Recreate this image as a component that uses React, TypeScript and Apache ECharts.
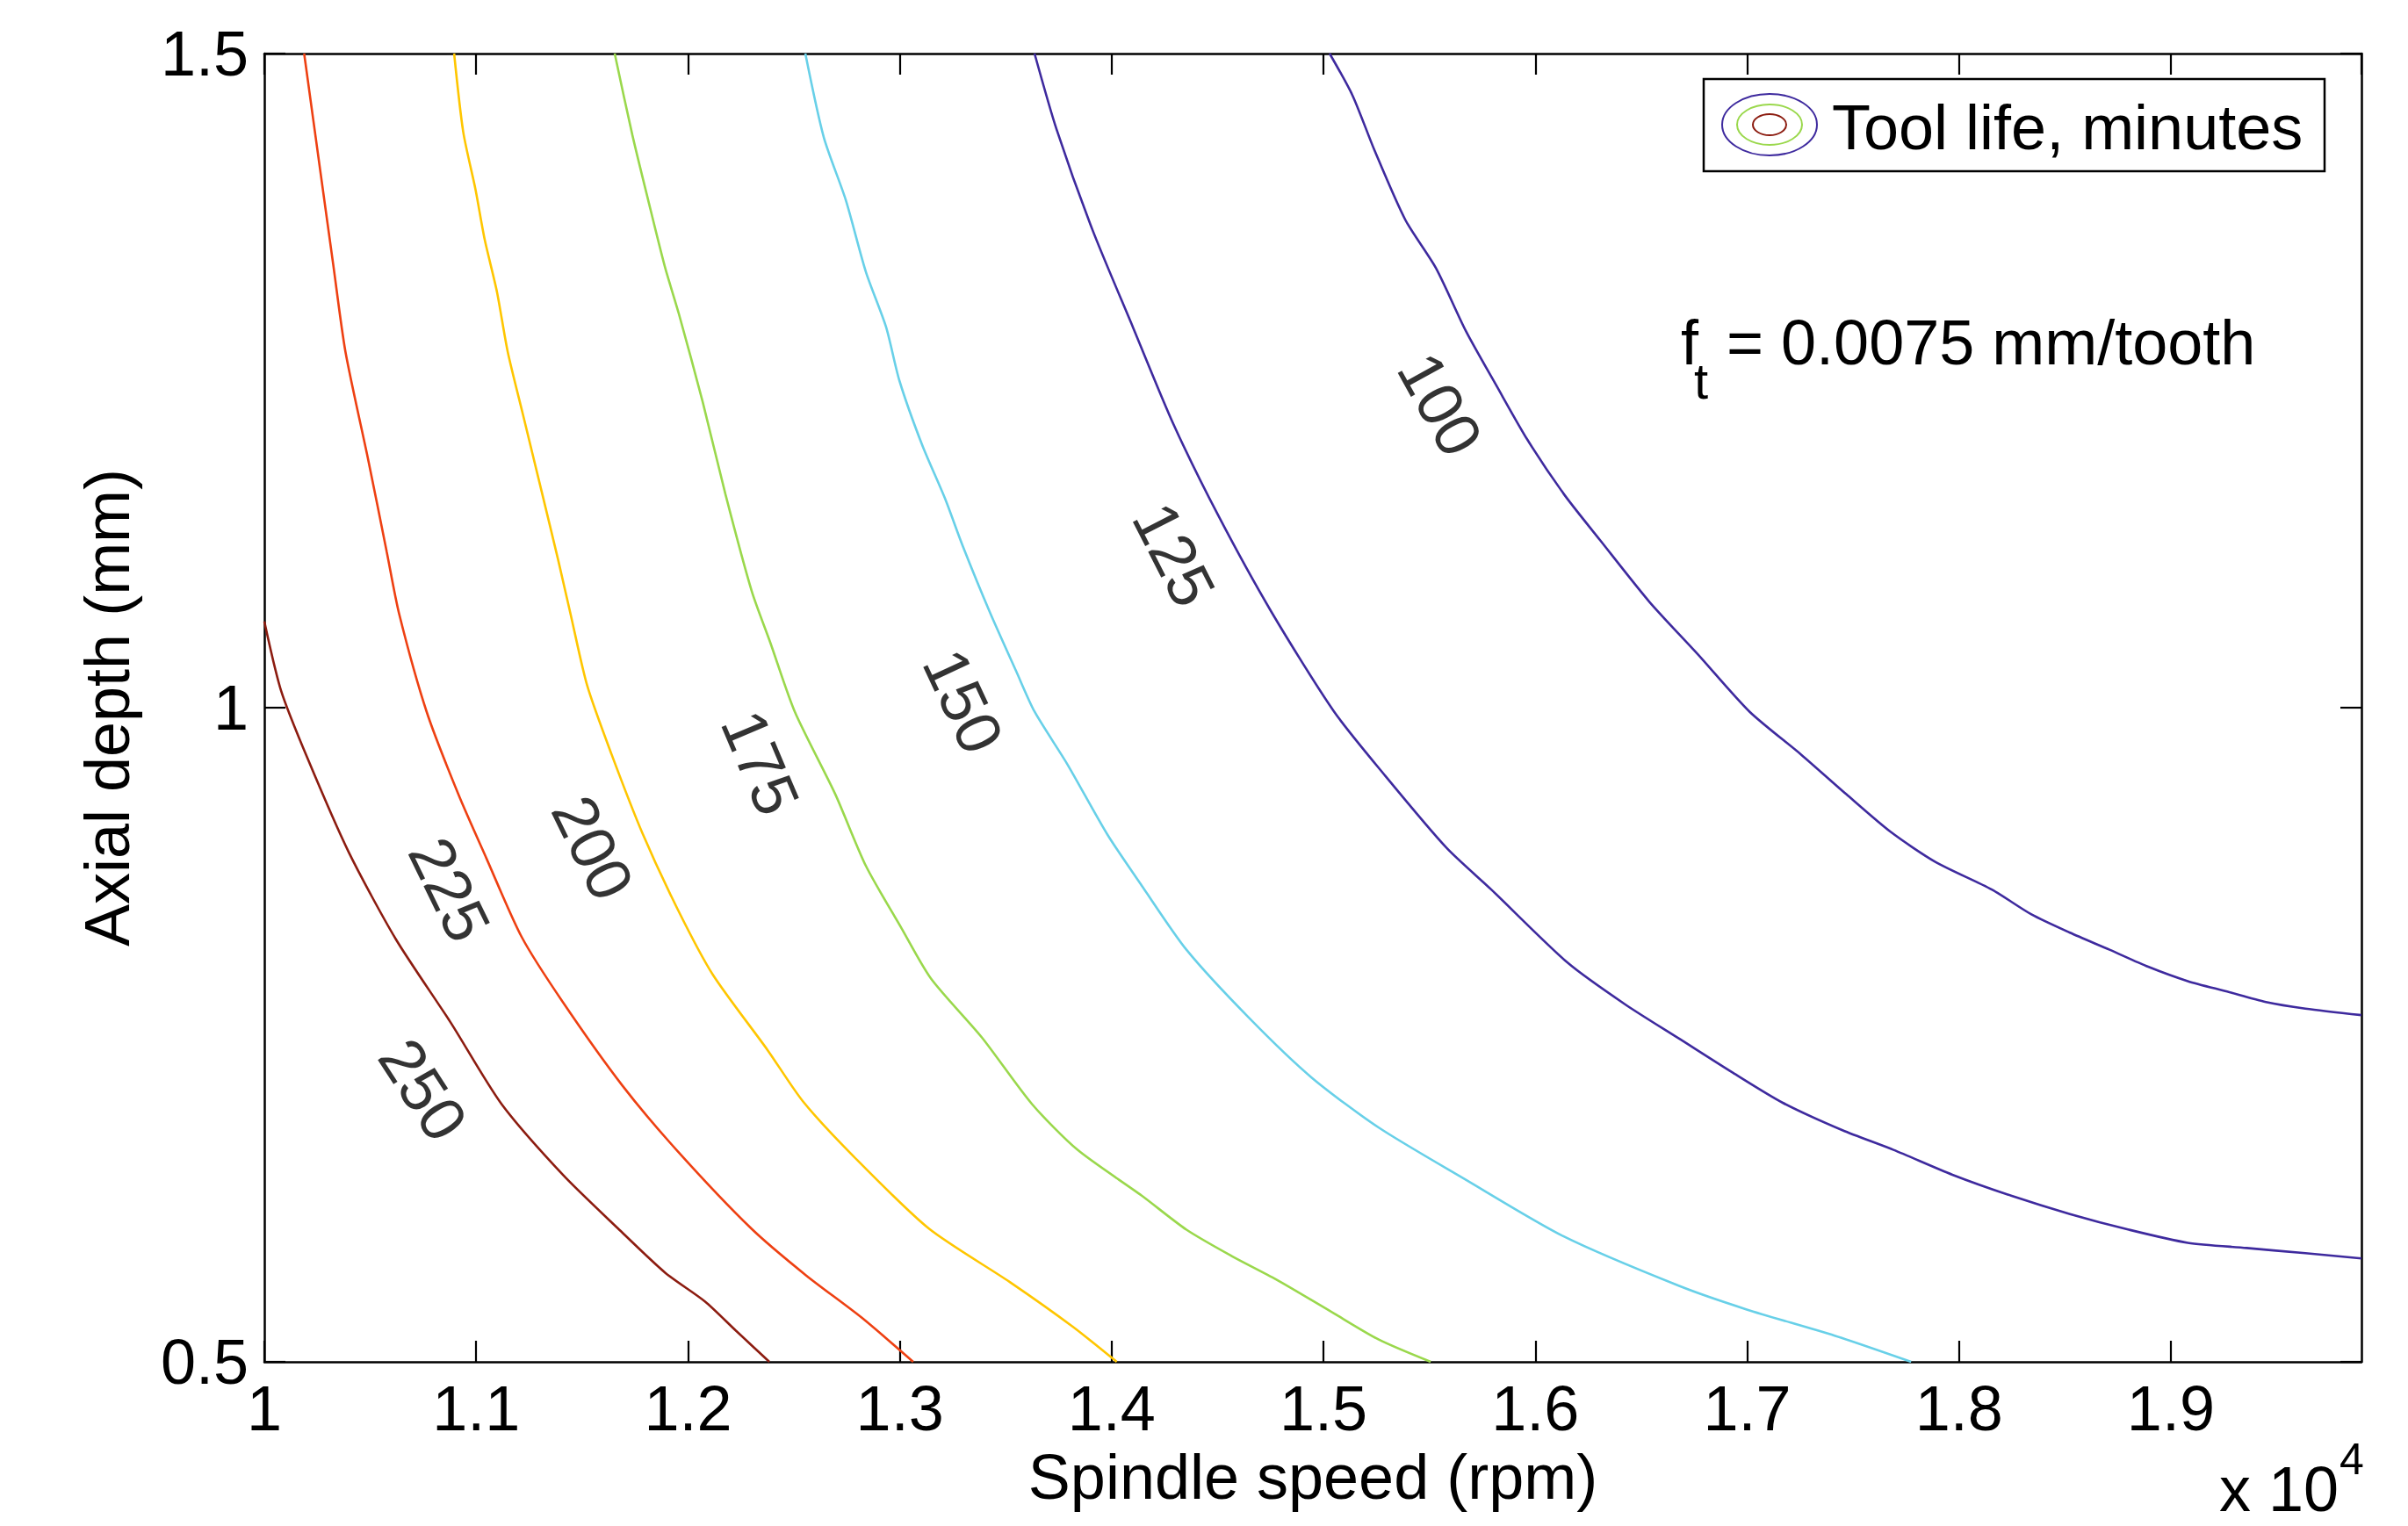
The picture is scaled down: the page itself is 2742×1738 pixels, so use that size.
import React, { useEffect, useRef } from "react";
import * as echarts from "echarts";

// ---- data ----
const xTickValues = [10000, 11000, 12000, 13000, 14000, 15000, 16000, 17000, 18000, 19000];
const yTickValues = [0.5, 1, 1.5];
const contourLevels = [100, 125, 150, 175, 200, 225, 250];

const contour100 = [
  [15029, 1.5], [15137, 1.468], [15241, 1.426], [15386, 1.373], [15531, 1.336], [15672, 1.288],
  [15817, 1.246], [15962, 1.205], [16136, 1.163], [16306, 1.128], [16538, 1.081], [16766, 1.041],
  [17011, 0.997], [17256, 0.964], [17467, 0.934], [17678, 0.905], [17890, 0.882], [18155, 0.861],
  [18342, 0.842], [18524, 0.828], [18711, 0.815], [18893, 0.802], [19080, 0.791], [19266, 0.783],
  [19449, 0.775], [19635, 0.77], [19900, 0.765],
];
const contour125 = [
  [13636, 1.5], [13740, 1.442], [13910, 1.365], [14100, 1.291], [14291, 1.217], [14503, 1.147],
  [14755, 1.073], [15050, 0.997], [15286, 0.949], [15580, 0.893], [15792, 0.861], [16153, 0.805],
  [16426, 0.773], [16679, 0.747], [16932, 0.721], [17168, 0.698], [17450, 0.677], [17691, 0.662],
  [17969, 0.643], [18246, 0.627], [18524, 0.613], [18802, 0.601], [19080, 0.591], [19358, 0.587],
  [19635, 0.583], [19900, 0.579],
];
const contour150 = [
  [12554, 1.5], [12641, 1.436], [12745, 1.388], [12840, 1.333], [12935, 1.291], [12998, 1.25],
  [13105, 1.201], [13213, 1.16], [13296, 1.124], [13425, 1.073], [13549, 1.028], [13636, 0.997],
  [13790, 0.957], [13980, 0.903], [14142, 0.864], [14353, 0.815], [14648, 0.763], [14946, 0.717],
  [15261, 0.679], [15663, 0.64], [16132, 0.596], [16679, 0.558], [16998, 0.54], [17413, 0.52],
  [17774, 0.5],
];
const contour175 = [
  [11654, 1.5], [11737, 1.438], [11812, 1.388], [11891, 1.337], [11957, 1.301], [12069, 1.234],
  [12177, 1.163], [12301, 1.089], [12388, 1.05], [12504, 0.997], [12695, 0.934], [12840, 0.879],
  [13006, 0.832], [13147, 0.793], [13387, 0.748], [13624, 0.697], [13839, 0.662], [14142, 0.627],
  [14353, 0.601], [14565, 0.581], [14776, 0.563], [15029, 0.539], [15261, 0.517], [15506, 0.5],
];
const contour200 = [
  [10896, 1.5], [10939, 1.44], [10997, 1.396], [11040, 1.358], [11098, 1.318], [11149, 1.272],
  [11221, 1.224], [11308, 1.166], [11387, 1.113], [11445, 1.072], [11524, 1.017], [11640, 0.964],
  [11785, 0.904], [11951, 0.846], [12117, 0.796], [12377, 0.738], [12543, 0.699], [12782, 0.657],
  [13136, 0.602], [13519, 0.561], [13815, 0.527], [14024, 0.5],
];
const contour225 = [
  [10188, 1.5], [10267, 1.407], [10325, 1.339], [10383, 1.272], [10491, 1.189], [10578, 1.119],
  [10636, 1.072], [10766, 0.997], [10918, 0.933], [11048, 0.885], [11214, 0.825], [11409, 0.775],
  [11691, 0.711], [11951, 0.661], [12298, 0.602], [12558, 0.566], [12818, 0.534], [13063, 0.5],
];
const contour250 = [
  [10000, 1.066], [10079, 1.013], [10202, 0.962], [10397, 0.89], [10621, 0.823], [10881, 0.759],
  [11120, 0.697], [11409, 0.643], [11669, 0.602], [11893, 0.568], [12081, 0.546], [12225, 0.524],
  [12384, 0.5],
];
const contours = [contour100, contour125, contour150, contour175, contour200, contour225, contour250];

// where each contour's value label sits (data coordinates) and its angle
const labelAnchors = [
  [15551, 1.232], [14295, 1.117], [13300, 1.005], [12342, 0.958], [11551, 0.893], [10875, 0.861], [10750, 0.708],
];
const labelAngles = [-61, -63, -65, -67, -64, -64, -57];

// ---- styles ----
const levelColors = ["#3E2A9E", "#3E2A9E", "#68D0E8", "#9AD84C", "#FFC600", "#EE4012", "#8C1C10"];
const FONT = '"Liberation Sans", Arial, Helvetica, sans-serif';

export default function App() {
  const ref = useRef<HTMLDivElement>(null);

  useEffect(() => {
    document.body.style.margin = "0";
    document.body.style.overflow = "hidden";
    const chart = echarts.init(ref.current!, undefined, { renderer: "svg" });

    const axisCommon = {
      type: "value" as const,
      splitLine: { show: false },
      axisLine: { show: true, onZero: false, lineStyle: { color: "#000", width: 2.5 } },
      axisTick: { show: true, inside: true, length: 24, lineStyle: { color: "#000", width: 2.2 } },
    };

    const lineSeries = contours.map((pts, i) => ({
      type: "line",
      name: String(contourLevels[i]),
      data: pts,
      xAxisIndex: 0,
      yAxisIndex: 0,
      showSymbol: false,
      symbol: "none",
      smooth: 0.25,
      silent: true,
      lineStyle: { color: levelColors[i], width: 2.6 },
      z: 3,
    }));

    const labelSeries = {
      type: "scatter",
      xAxisIndex: 0,
      yAxisIndex: 0,
      symbolSize: 1,
      silent: true,
      itemStyle: { color: "rgba(0,0,0,0)" },
      z: 5,
      data: contourLevels.map((lv, i) => ({
        value: labelAnchors[i],
        label: {
          show: true,
          position: "inside",
          formatter: String(lv),
          rotate: labelAngles[i],
          fontSize: 72,
          fontFamily: FONT,
          color: "#000",
          textBorderWidth: 0,
        },
      })),
    };

    const ellipse = (rx: number, ry: number, color: string) => ({
      type: "ellipse",
      shape: { cx: 2015, cy: 142, rx, ry },
      style: { fill: "none", stroke: color, lineWidth: 2 },
      z: 101,
    });
    const txt = (x: number, y: number, text: string, size: number, align = "left", rotation = 0) => ({
      type: "text",
      x,
      y,
      rotation,
      z: 102,
      style: {
        text,
        x: 0,
        y: 0,
        fill: "#000",
        fontSize: size,
        fontFamily: FONT,
        align,
        verticalAlign: "middle",
      },
    });

    chart.setOption({
      animation: false,
      backgroundColor: "#ffffff",
      grid: { left: 301, top: 61, width: 2388, height: 1490, containLabel: false },
      xAxis: [
        {
          ...axisCommon,
          position: "bottom",
          min: 10000,
          max: 19900,
          interval: 1000,
          axisLabel: {
            show: true,
            margin: 17,
            fontSize: 72,
            fontFamily: FONT,
            color: "#000",
            showMaxLabel: false,
            formatter: (v: number) => (xTickValues.includes(v) ? String(v / 10000) : ""),
          },
        },
        {
          ...axisCommon,
          position: "top",
          min: 10000,
          max: 19900,
          interval: 1000,
          axisLabel: { show: false },
        },
      ],
      yAxis: [
        {
          ...axisCommon,
          position: "left",
          min: 0.5,
          max: 1.5,
          interval: 0.5,
          axisLabel: {
            show: true,
            margin: 18,
            fontSize: 72,
            fontFamily: FONT,
            color: "#000",
            formatter: (v: number) => (yTickValues.includes(v) ? String(v) : ""),
          },
        },
        {
          ...axisCommon,
          position: "right",
          min: 0.5,
          max: 1.5,
          interval: 0.5,
          axisLabel: { show: false },
        },
      ],
      series: [...lineSeries, labelSeries],
      graphic: [
        {
          type: "rect",
          shape: { x: 1940, y: 90, width: 707, height: 105 },
          style: { fill: "#fff", stroke: "#000", lineWidth: 2.5 },
          z: 100,
        },
        ellipse(54, 35, levelColors[0]),
        ellipse(37, 23, levelColors[3]),
        ellipse(19, 12, levelColors[6]),
        txt(2086, 145, "Tool life, minutes", 72),
        txt(1914, 390, "f", 72),
        txt(1929, 433, "t", 58),
        txt(1966, 390, "= 0.0075 mm/tooth", 72),
        txt(1495, 1682, "Spindle speed (rpm)", 72, "center"),
        txt(122, 806, "Axial depth (mm)", 72, "center", Math.PI / 2),
        txt(2527, 1696, "x 10", 72),
        txt(2664, 1662, "4", 50),
      ],
    });

    return () => chart.dispose();
  }, []);

  return <div ref={ref} style={{ width: 2742, height: 1738 }} />;
}
